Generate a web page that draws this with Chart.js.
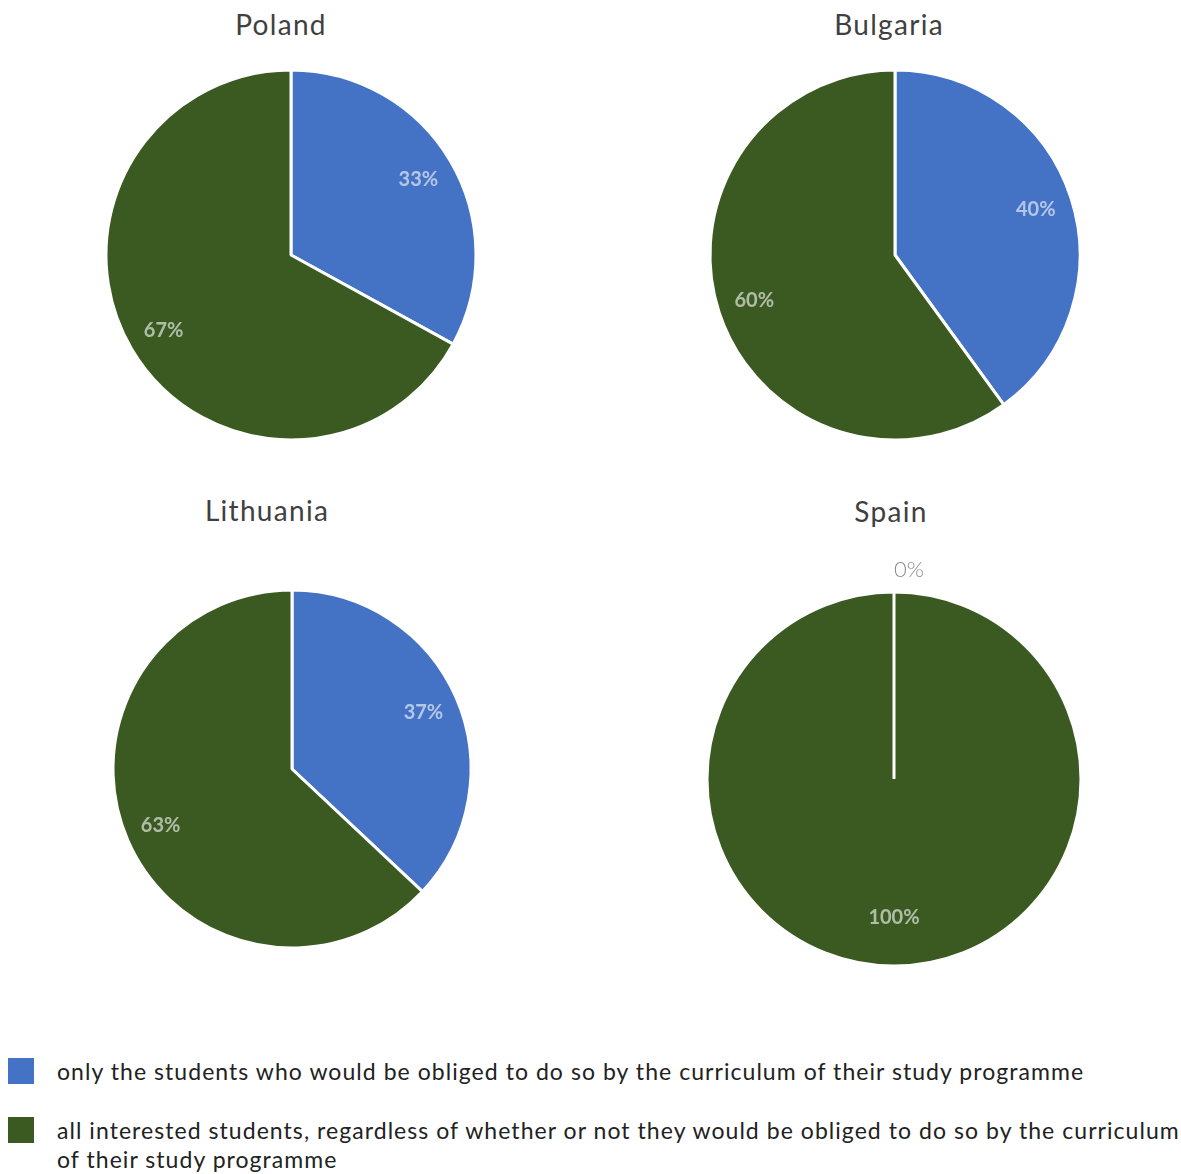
<!DOCTYPE html>
<html>
<head>
<meta charset="utf-8">
<script src="https://cdn.jsdelivr.net/npm/chart.js@4.4.0/dist/chart.umd.min.js"></script>
<style>
  body { margin: 0; background: #fff; font-family: Lato, "Open Sans", sans-serif; }
  #wrap { position: relative; width: 1181px; height: 1174px; overflow: hidden; }
  .title { position: absolute; font-size: 28px; letter-spacing: 1.3px; color: #404040; transform: translateX(-50%); white-space: nowrap; }
  canvas { position: absolute; }
  .key { position: absolute; left: 8px; width: 26px; height: 26px; }
  .txt { position: absolute; left: 57px; font-size: 23px; letter-spacing: 1.05px; line-height: 29px; color: #222; white-space: nowrap; }
</style>
</head>
<body>
<div id="wrap">
  <div class="title" style="left:281px; top:7px">Poland</div>
  <div class="title" style="left:889px; top:7px">Bulgaria</div>
  <div class="title" style="left:267px; top:493px">Lithuania</div>
  <div class="title" style="left:891px; top:494px">Spain</div>

  <canvas id="pl" width="420" height="420" style="left:81px; top:45px"></canvas>
  <canvas id="bg" width="420" height="420" style="left:685px; top:45px"></canvas>
  <canvas id="lt" width="420" height="420" style="left:82px; top:559px"></canvas>
  <canvas id="es" width="460" height="460" style="left:664px; top:549px"></canvas>

  <div class="key" style="top:1058px; background:#4472c4"></div>
  <div class="txt" id="t1" style="top:1057px"></div>
  <div class="key" style="top:1117px; background:#3b5a22"></div>
  <div class="txt" id="t2" style="top:1116px"></div>
</div>
<script>
var categories = [
  'only the students who would be obliged to do so by the curriculum of their study programme',
  'all interested students, regardless of whether or not they would be obliged to do so by the curriculum of their study programme'
];
var countries = ['Poland', 'Bulgaria', 'Lithuania', 'Spain'];
var poland = [33, 67];
var bulgaria = [40, 60];
var lithuania = [37, 63];
var spain = [0, 100];
var colors = ['#4472c4', '#3b5a22'];

document.getElementById('t1').textContent = categories[0];
document.getElementById('t2').innerHTML =
  'all interested students, regardless of whether or not they would be obliged to do so by the curriculum<br>of their study programme';

// percent labels drawn inside each slice, zero slices get a label outside the rim
var pctLabels = {
  id: 'pctLabels',
  afterDatasetsDraw: function(chart) {
    var ctx = chart.ctx;
    var ds = chart.data.datasets[0];
    chart.getDatasetMeta(0).data.forEach(function(arc, i) {
      var p = arc.getProps(['x', 'y', 'startAngle', 'endAngle', 'outerRadius']);
      var v = ds.data[i];
      var mid = (p.startAngle + p.endAngle) / 2;
      ctx.save();
      ctx.textBaseline = 'middle';
      if (v === 0) {
        ctx.font = '300 22px Lato, sans-serif';
        ctx.fillStyle = '#8a8a8a';
        ctx.textAlign = 'left';
        ctx.fillText(v + '%', p.x + Math.cos(mid) * (p.outerRadius + 22), p.y + Math.sin(mid) * (p.outerRadius + 22));
      } else {
        ctx.font = 'bold 20px Lato, sans-serif';
        ctx.fillStyle = 'rgba(255,255,255,0.6)';
        ctx.textAlign = 'center';
        var r = p.outerRadius * (v === 100 ? 0.74 : 0.8);
        ctx.fillText(v + '%', p.x + Math.cos(mid) * r, p.y + Math.sin(mid) * r);
      }
      ctx.restore();
    });
  }
};

function makePie(id, values, radius) {
  var ctx = document.getElementById(id).getContext('2d');
  return new Chart(ctx, {
    type: 'pie',
    data: {
      labels: categories,
      datasets: [{
        data: values,
        backgroundColor: colors,
        borderColor: '#ffffff',
        borderWidth: 3,
        radius: radius
      }]
    },
    options: {
      responsive: false,
      animation: false,
      plugins: { legend: { display: false }, tooltip: { enabled: false } }
    },
    plugins: [pctLabels]
  });
}

makePie('pl', poland, 185);
makePie('bg', bulgaria, 185);
makePie('lt', lithuania, 179);
makePie('es', spain, 187);
</script>
</body>
</html>
